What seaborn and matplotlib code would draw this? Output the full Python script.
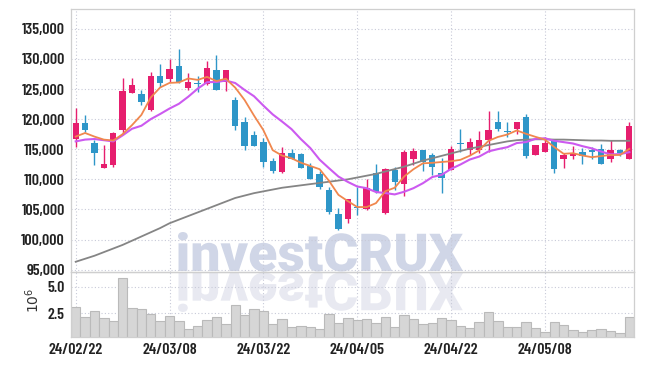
import matplotlib
matplotlib.use('Agg')
import matplotlib.pyplot as plt
import seaborn as sns
import pandas as pd
from matplotlib.textpath import TextPath
from matplotlib.patches import PathPatch
from matplotlib.font_manager import FontProperties
from matplotlib.transforms import Affine2D, IdentityTransform

# Daily candles, 24/02/22 .. 24/05/31 (60 sessions)
opens = [116700, 119300, 116000, 111800, 112400, 118200, 124400, 124100, 121600, 127100,
         126700, 128900, 125100, 126000, 125800, 128200, 126100, 123200, 119600, 117300,
         116200, 113100, 111200, 114300, 114200, 112200, 110900, 108200, 104300, 103400,
         105400, 105000, 111000, 104400, 111600, 109200, 113400, 114900, 114100, 111000,
         111600, 116100, 114800, 114900, 116600, 119600, 118100, 118300, 120300, 114000,
         114600, 116400, 113400, 113800, 114500, 114900, 115100, 113300, 114900, 113400]
highs = [121800, 120700, 116600, 115700, 117900, 126800, 126800, 124900, 127800, 129200,
         130000, 131700, 127700, 127200, 129700, 130700, 128200, 123700, 120300, 118100,
         116800, 113500, 115300, 115100, 114300, 112700, 111400, 108800, 105200, 106800,
         108800, 110000, 112600, 111900, 112100, 114900, 115200, 114900, 114400, 113500,
         115600, 118300, 116800, 118100, 121400, 121300, 119600, 119600, 120900, 115700,
         117100, 116700, 114400, 115600, 115200, 115400, 115900, 116600, 115000, 119600]
lows = [115300, 117900, 112300, 111800, 112000, 117600, 124300, 122400, 121400, 125400,
        126200, 126000, 124900, 124500, 125600, 124900, 124600, 118200, 114900, 115500,
        112000, 111000, 111100, 113300, 111900, 110100, 108400, 104300, 101500, 102800,
        104000, 104900, 107700, 104300, 108200, 107200, 112300, 111400, 110700, 107700,
        111500, 114600, 114100, 114400, 114600, 118000, 117100, 117500, 113500, 114000,
        114600, 111100, 111900, 113300, 112500, 113400, 112500, 112900, 113800, 113300]
closes = [119300, 118200, 114400, 112600, 117700, 124600, 125700, 122900, 127100, 126000,
          128400, 126100, 126200, 125900, 128500, 124900, 128100, 118800, 115600, 115600,
          112800, 111400, 114300, 113400, 111900, 110100, 108700, 104600, 101800, 106700,
          105200, 108600, 107900, 111700, 109600, 114500, 114700, 112800, 112100, 110300,
          115100, 115900, 116200, 116600, 118200, 118300, 117900, 119600, 113800, 115700,
          116000, 111700, 114000, 114300, 113800, 114600, 112600, 114900, 114300, 118900]

# moving averages as drawn on the chart
ma5 = [117100, 117700, 117100, 116600, 116440, 117500, 119000, 120700, 123600, 125260,
       126020, 126100, 126760, 126520, 127020, 126320, 126720, 125240, 123180, 120600,
       118180, 114840, 113940, 113500, 112760, 112220, 111680, 109740, 107420, 106380,
       105400, 105380, 106040, 108020, 108600, 110460, 111680, 112660, 112740, 112880,
       113000, 113240, 113920, 114820, 116400, 117040, 117440, 118120, 117560, 117060,
       116600, 115360, 114240, 114340, 113960, 113680, 113860, 114040, 114040, 115060]
ma10 = [116300, 116600, 116700, 116500, 116300, 117300, 118400, 118900, 120000, 120850,
        121760, 122550, 123730, 125060, 126140, 126170, 126410, 126000, 124850, 123810,
        122250, 120780, 119590, 118340, 116680, 115200, 113260, 111840, 110460, 109570,
        108810, 108530, 107890, 107720, 107490, 107930, 108530, 109350, 110380, 110740,
        111730, 112460, 113290, 113780, 114640, 115020, 115340, 116020, 116190, 116730,
        116820, 116400, 116180, 115950, 115510, 115140, 114610, 114140, 114190, 114510]
ma_long = [96300, 96800, 97300, 97900, 98500, 99100, 99800, 100500, 101200, 101900,
           102700, 103300, 103900, 104500, 105100, 105700, 106300, 106900, 107300, 107700,
           108000, 108300, 108600, 108800, 109000, 109200, 109400, 109600, 109800, 110000,
           110300, 110600, 110900, 111300, 111700, 112100, 112600, 113100, 113500, 113900,
           114300, 114700, 115100, 115400, 115700, 116000, 116300, 116500, 116600, 116650,
           116650, 116600, 116600, 116550, 116500, 116450, 116450, 116400, 116400, 116400]

# volume in millions of shares
volume = [3.14, 2.18, 2.76, 2.05, 1.79, 5.83, 3.04, 2.95, 2.47, 1.79,
          2.28, 1.79, 0.99, 1.31, 1.89, 2.18, 1.47, 3.33, 2.37, 2.92,
          2.72, 1.51, 1.96, 1.19, 1.31, 1.22, 0.99, 2.47, 1.60, 2.05,
          1.86, 1.96, 1.57, 2.15, 1.19, 2.37, 1.96, 1.47, 1.57, 2.05,
          1.86, 1.28, 1.09, 1.67, 2.63, 1.76, 1.19, 1.19, 1.67, 1.09,
          0.71, 1.67, 1.38, 0.90, 0.71, 0.90, 0.99, 0.80, 0.61, 2.15]

tick_pos = [0, 10, 20, 30, 40, 50]
tick_labels = ['24/02/22', '24/03/08', '24/03/22', '24/04/05', '24/04/22', '24/05/08']
price_ticks = [95000, 100000, 105000, 110000, 115000, 120000, 125000, 130000, 135000]
vol_ticks = [2.5, 5.0]

UP = '#e61e6e'
DOWN = '#2e96c8'
GRID = '#c8cad8'
SPINE = '#cfcfcf'
LABEL_FONT = FontProperties(family=['Barlow Condensed', 'DejaVu Sans'], weight='semibold', size=11.5)

df = pd.DataFrame({'i': range(len(closes)), 'open': opens, 'high': highs, 'low': lows,
                   'close': closes, 'ma5': ma5, 'ma10': ma10, 'ma_long': ma_long,
                   'volume': volume})
df['up'] = df['close'] >= df['open']

W, H = 645, 366
fig = plt.figure(figsize=(W / 100, H / 100), dpi=100)
fig.patch.set_facecolor('white')
ax = fig.add_axes([71 / W, 1 - 272 / H, 563 / W, 263 / H])
axv = fig.add_axes([71 / W, 1 - 337 / H, 563 / W, 65 / H], sharex=ax)

# watermark with its reflection, drawn under the axes
fp = FontProperties(family='Roboto', weight='black')
tp = TextPath((0, 0), 'investCRUX', size=100, prop=fp)
ext = tp.get_extents()
sx = (463 - 178) / ext.width
sy = (271 - 232) / ext.y1
for flip, y_base, col in [(1, 271, '#d0d6e7'), (-1, 273, '#e8e9f1')]:
    tr = Affine2D().translate(-ext.x0, 0).scale(sx, flip * sy).translate(178, H - y_base)
    patch = PathPatch(tr.transform_path(tp), facecolor=col, edgecolor='none',
                      transform=IdentityTransform(), zorder=-1)
    fig.add_artist(patch)

for a in (ax, axv):
    a.set_facecolor('none')
    for s in a.spines.values():
        s.set_color(SPINE)
        s.set_linewidth(0.9)
    a.grid(True, color=GRID, linestyle=(0, (1, 2)), linewidth=0.8)
    a.set_axisbelow(True)
    a.tick_params(length=0, labelcolor='#222222', pad=4.5)

# candles
ax.vlines(df['i'], df['low'], df['high'], colors=df['up'].map({True: UP, False: DOWN}),
          linewidth=1.0, zorder=2)
body = (df['close'] - df['open']).abs().clip(lower=150)
ax.bar(df['i'], body, bottom=df[['open', 'close']].min(axis=1), width=0.68,
       color=df['up'].map({True: UP, False: DOWN}), edgecolor='none', zorder=3)

sns.lineplot(data=df, x='i', y='ma_long', ax=ax, color='#858585', linewidth=1.3, zorder=4)
sns.lineplot(data=df, x='i', y='ma10', ax=ax, color='#cc5af0', linewidth=1.5, zorder=4)
sns.lineplot(data=df, x='i', y='ma5', ax=ax, color='#f0874e', linewidth=1.3, zorder=5)

ax.set_ylim(94600, 138300)
ax.set_yticks(price_ticks)
ax.set_yticklabels([f'{v:,}' for v in price_ticks], fontproperties=LABEL_FONT)
ax.set_xlabel('')
ax.set_ylabel('')
ax.tick_params(axis='x', labelbottom=False)

# volume
sns.barplot(data=df, x='i', y='volume', ax=axv, native_scale=True, width=1.0,
            color='#d6d6d6', edgecolor='#bababa', linewidth=0.8, errorbar=None,
            saturation=1)
axv.set_ylim(0.25, 6.41)
axv.set_yticks(vol_ticks)
axv.set_yticklabels([f'{v:.1f}' for v in vol_ticks], fontproperties=LABEL_FONT)
axv.set_xlim(-0.5, 59.5)
axv.set_xticks(tick_pos)
axv.set_xticklabels(tick_labels, fontproperties=LABEL_FONT)
axv.set_xlabel('')
axv.set_ylabel('')
axv.grid(True, color=GRID, linestyle=(0, (1, 2)), linewidth=0.8)

fig.text(33 / W, 1 - 300 / H, r'$10^{6}$', rotation=90, ha='center', va='center',
         fontsize=10, color='#333333')

fig.savefig('out.png', dpi=100, facecolor='white')
